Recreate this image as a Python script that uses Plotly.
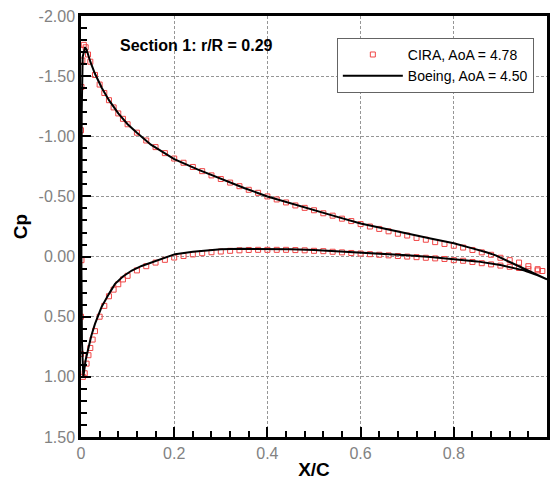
import plotly.graph_objects as go

# ---- Boeing (line), AoA = 4.50 ----
boeing_upper_x = [1.00, 0.98, 0.95, 0.92, 0.89, 0.87, 0.84, 0.80, 0.75, 0.70, 0.65, 0.60,
                  0.55, 0.50, 0.45, 0.40, 0.35, 0.30, 0.25, 0.20, 0.15, 0.12, 0.10, 0.08,
                  0.06, 0.045, 0.03, 0.02, 0.012, 0.0086, 0.0036, 0.0015]
boeing_upper_cp = [0.19, 0.155, 0.10, 0.045, -0.01, -0.036, -0.068, -0.11, -0.15, -0.19, -0.235, -0.275,
                   -0.33, -0.385, -0.44, -0.50, -0.57, -0.645, -0.725, -0.81, -0.93, -1.03, -1.10, -1.19,
                   -1.30, -1.40, -1.52, -1.62, -1.72, -1.74, -1.66, -1.20]
boeing_lower_x = [0.0008, 0.002, 0.005, 0.010, 0.016, 0.022, 0.030, 0.044, 0.06, 0.073, 0.09, 0.109,
                  0.13, 0.152, 0.175, 0.202, 0.24, 0.273, 0.30, 0.345, 0.40, 0.45, 0.50, 0.55,
                  0.60, 0.65, 0.70, 0.75, 0.80, 0.85, 0.90, 0.95, 0.98, 1.00]
boeing_lower_cp = [0.0, 0.70, 1.00, 0.86, 0.75, 0.66, 0.56, 0.42, 0.31, 0.227, 0.165, 0.116,
                   0.078, 0.047, 0.015, -0.02, -0.04, -0.054, -0.06, -0.065, -0.065, -0.06, -0.055, -0.045,
                   -0.035, -0.025, -0.01, 0.003, 0.02, 0.04, 0.07, 0.115, 0.155, 0.19]

# ---- CIRA (markers), AoA = 4.78 ----
cira_le_x = [0.000, 0.001, 0.000, 0.000, 0.001, 0.003]
cira_le_cp = [0.81, 0.03, 0.50, -1.05, -1.41, -1.63]
cira_upper_x = [0.003, 0.006, 0.010, 0.015, 0.02, 0.03, 0.04, 0.05, 0.06, 0.07, 0.08, 0.09,
                0.10, 0.12, 0.14, 0.16, 0.18, 0.20, 0.22, 0.24, 0.26, 0.28, 0.30, 0.32,
                0.34, 0.36, 0.38, 0.40, 0.42, 0.44, 0.46, 0.48, 0.50, 0.52, 0.54, 0.56,
                0.58, 0.60, 0.62, 0.64, 0.66, 0.68, 0.70, 0.72, 0.74, 0.76, 0.78, 0.80,
                0.82, 0.84, 0.86, 0.88, 0.90, 0.92, 0.94, 0.96, 0.98, 0.99]
cira_upper_cp = [-1.72, -1.76, -1.74, -1.68, -1.62, -1.51, -1.43, -1.36, -1.30, -1.24, -1.19, -1.145,
                 -1.10, -1.03, -0.965, -0.91, -0.86, -0.815, -0.78, -0.745, -0.71, -0.675, -0.645, -0.615,
                 -0.585, -0.555, -0.53, -0.50, -0.475, -0.45, -0.425, -0.405, -0.385, -0.36, -0.34, -0.315,
                 -0.295, -0.27, -0.25, -0.23, -0.21, -0.19, -0.175, -0.155, -0.14, -0.12, -0.105, -0.09,
                 -0.075, -0.055, -0.035, -0.015, 0.01, 0.03, 0.05, 0.08, 0.105, 0.12]
cira_lower_x = [0.004, 0.008, 0.012, 0.016, 0.02, 0.025, 0.03, 0.04, 0.05, 0.06, 0.07, 0.08,
                0.09, 0.10, 0.12, 0.14, 0.16, 0.18, 0.20, 0.22, 0.24, 0.26, 0.28, 0.30,
                0.32, 0.34, 0.36, 0.38, 0.40, 0.42, 0.44, 0.46, 0.48, 0.50, 0.52, 0.54,
                0.56, 0.58, 0.60, 0.62, 0.64, 0.66, 0.68, 0.70, 0.72, 0.74, 0.76, 0.78,
                0.80, 0.82, 0.84, 0.86, 0.88, 0.90, 0.92, 0.94, 0.96, 0.98]
cira_lower_cp = [1.00, 0.97, 0.89, 0.82, 0.76, 0.69, 0.62, 0.50, 0.41, 0.33, 0.275, 0.23,
                 0.19, 0.16, 0.115, 0.08, 0.05, 0.027, 0.008, -0.005, -0.018, -0.028, -0.036, -0.042,
                 -0.048, -0.052, -0.055, -0.056, -0.056, -0.056, -0.056, -0.054, -0.052, -0.048, -0.045, -0.04,
                 -0.035, -0.03, -0.025, -0.02, -0.015, -0.01, -0.005, 0.0, 0.005, 0.01, 0.015, 0.02,
                 0.03, 0.035, 0.045, 0.055, 0.065, 0.075, 0.085, 0.095, 0.105, 0.115]

x_ticks = [0, 0.2, 0.4, 0.6, 0.8, 1]
x_tick_labels = ["0", "0.2", "0.4", "0.6", "0.8", "1"]
y_ticks = [-2.0, -1.5, -1.0, -0.5, 0.0, 0.5, 1.0, 1.5]
y_tick_labels = ["-2.00", "-1.50", "-1.00", "-0.50", "0.00", "0.50", "1.00", "1.50"]

FONT = "Liberation Sans, Arial, Helvetica, sans-serif"

fig = go.Figure()
fig.add_trace(go.Scatter(
    x=cira_le_x + cira_upper_x + cira_lower_x,
    y=cira_le_cp + cira_upper_cp + cira_lower_cp,
    mode="markers", name="CIRA, AoA = 4.78",
    marker=dict(symbol="square-open", size=5, color="rgb(240,70,70)", line=dict(width=1)),
    cliponaxis=False,
))
fig.add_trace(go.Scatter(
    x=boeing_upper_x + boeing_lower_x,
    y=boeing_upper_cp + boeing_lower_cp,
    mode="lines", name="Boeing, AoA = 4.50",
    line=dict(color="black", width=2),
))

axis_common = dict(
    showline=True, linecolor="black", linewidth=2.5, mirror=True,
    ticks="inside", tickcolor="black", tickwidth=2, ticklen=10,
    showgrid=True, gridcolor="rgb(150,150,150)", gridwidth=1, griddash="3px,2px",
    zeroline=False, automargin=False,
    tickfont=dict(family=FONT, size=16, color="rgb(130,130,130)"),
)

fig.update_xaxes(
    range=[0, 1], tickmode="array", tickvals=x_ticks, ticktext=x_tick_labels,
    minor=dict(dtick=0.04, ticks="inside", ticklen=6, tickwidth=1.5, tickcolor="black", showgrid=False),
    title=dict(text="<b>X/C</b>", font=dict(family=FONT, size=19, color="black"), standoff=2),
    **axis_common,
)
fig.update_yaxes(
    range=[1.5, -2.0], tickmode="array", tickvals=y_ticks, ticktext=y_tick_labels,
    minor=dict(dtick=0.1, ticks="inside", ticklen=6, tickwidth=1.5, tickcolor="black", showgrid=False),
    title=dict(text="<b>Cp</b>", font=dict(family=FONT, size=19, color="black"), standoff=6),
    **axis_common,
)

fig.add_annotation(
    x=0.079, y=0.931, xref="paper", yref="paper", xanchor="left", yanchor="middle",
    text="<b>Section 1: r/R = 0.29</b>", showarrow=False,
    font=dict(family=FONT, size=16, color="black"),
)

fig.update_layout(
    width=550, height=480, autosize=False,
    margin=dict(l=81, r=3, t=16, b=43),
    plot_bgcolor="white", paper_bgcolor="white",
    showlegend=True,
    legend=dict(
        x=0.549, y=0.948, xanchor="left", yanchor="top",
        bgcolor="white", bordercolor="rgb(100,100,100)", borderwidth=1,
        font=dict(family=FONT, size=14, color="black"),
        itemwidth=60, tracegroupgap=0,
    ),
)

fig.write_html(
    "out.html",
    config={"displayModeBar": False},
    post_script="document.body.style.margin='0';document.body.style.overflow='hidden';",
)
